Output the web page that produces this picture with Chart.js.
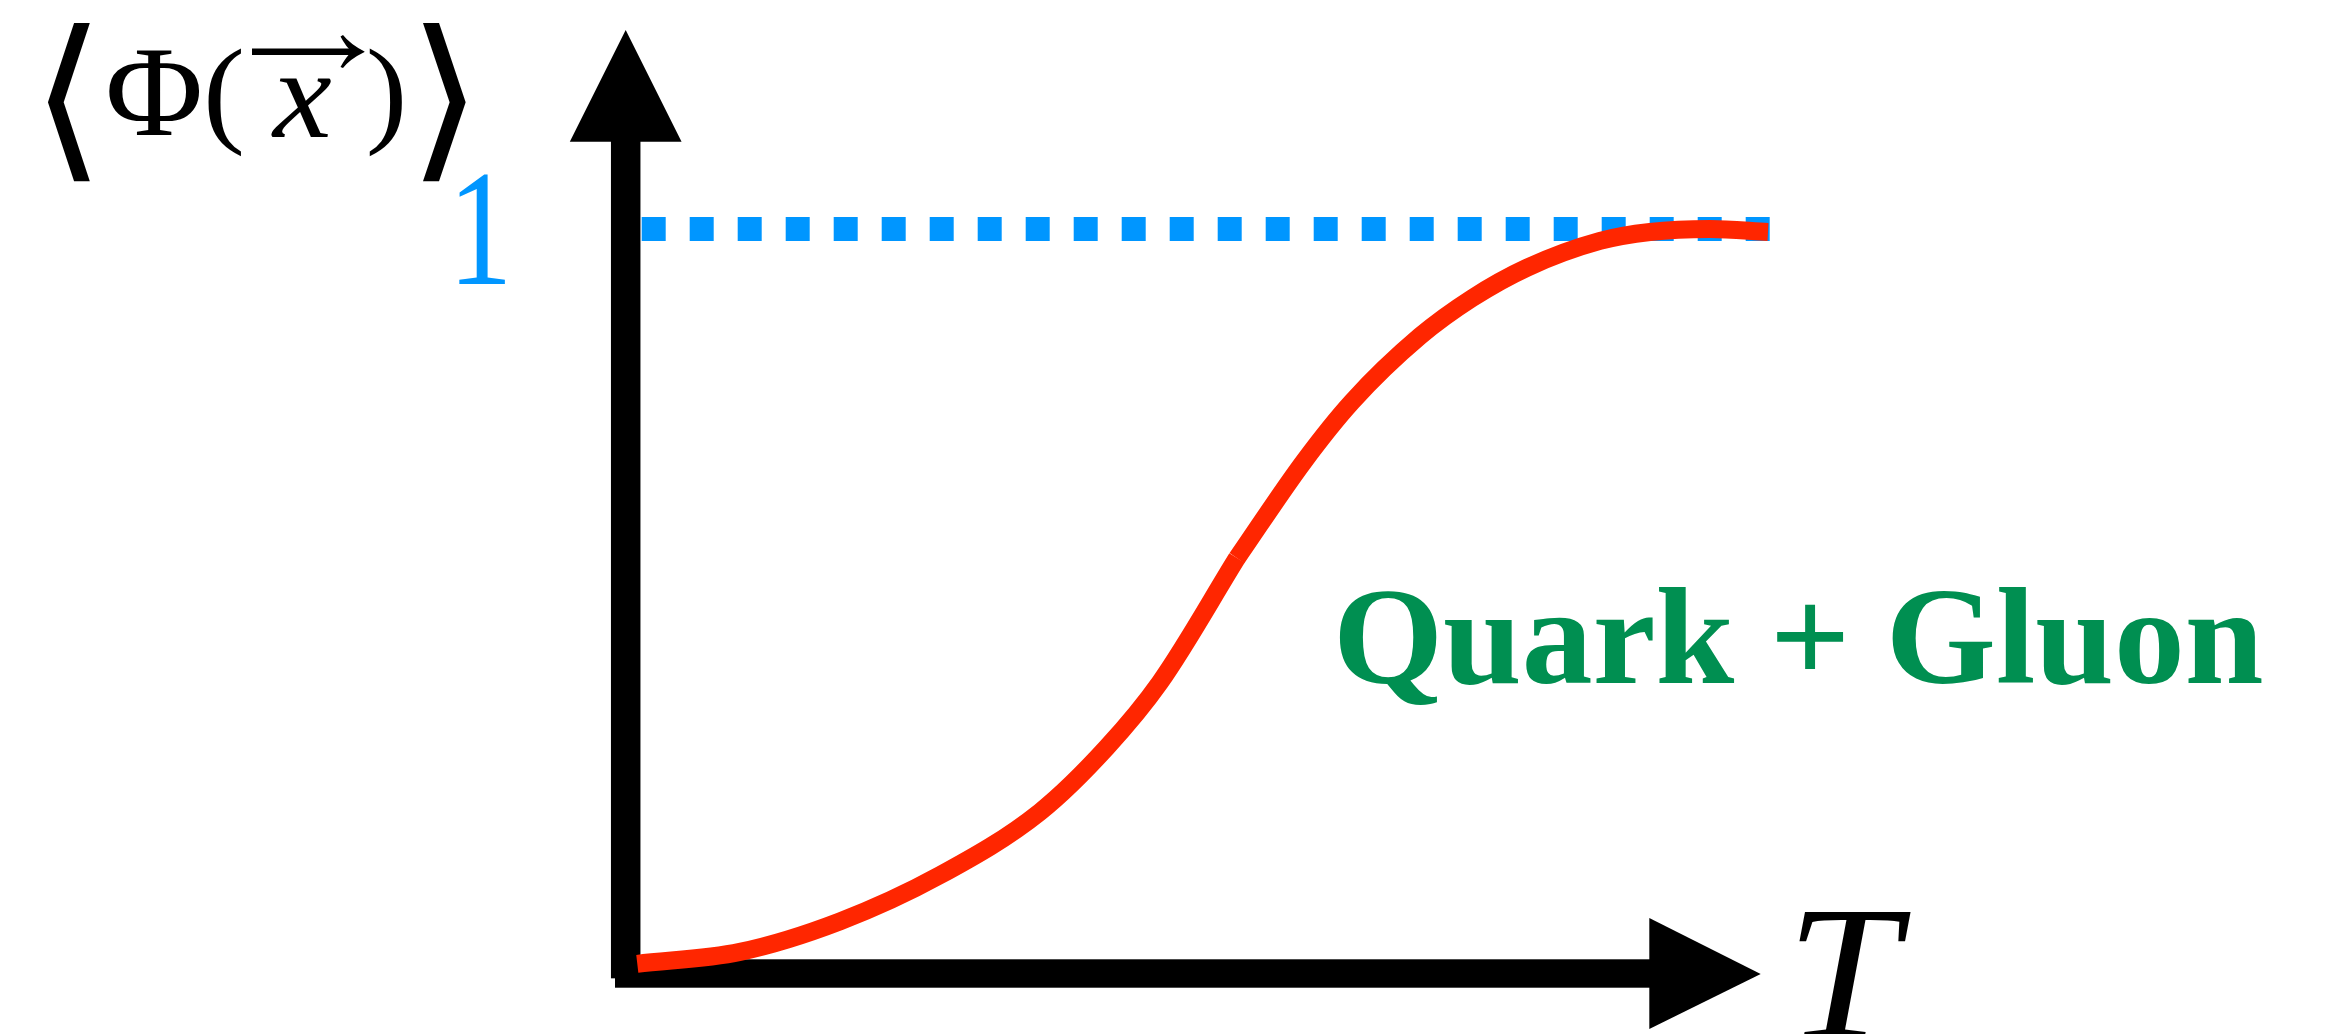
<!DOCTYPE html>
<html>
<head>
<meta charset="utf-8">
<script src="https://cdn.jsdelivr.net/npm/chart.js@4/dist/chart.umd.min.js"></script>
<style>
html,body{margin:0;padding:0;background:#ffffff;overflow:hidden}
canvas{display:block}
</style>
</head>
<body>
<canvas id="c" width="2326" height="1034" style="width:2326px;height:1034px"></canvas>
<script>
// ---------------- data ----------------
// confined (hadronic) branch, up to the crossover kink
const hadronT    = [0.116, 1.143, 2.143, 3.143, 4.143, 4.813, 5.343, 6.113];
const hadronPhi  = [0.013, 0.029, 0.070, 0.132, 0.217, 0.304, 0.391, 0.558];
// deconfined (quark + gluon) branch, from the kink on
const plasmaT    = [6.113, 6.783, 7.263, 7.943, 8.463, 9.013, 9.743, 10.243, 10.843, 11.423];
const plasmaPhi  = [0.558, 0.688, 0.768, 0.856, 0.907, 0.948, 0.984, 0.996, 1.000, 0.996];
// the limiting value 1
const limitT     = [0.16, 11.44];
const limitValue = [1, 1];
const yTickLabel  = '1';
const xAxisLabel  = 'T';
const phaseLabel  = 'Quark + Gluon';
const yLabelParts = ['\u27E8', '\u03A6', '(', 'x', ')', '\u27E9'];

// ---------------- colours ----------------
const RED = '#FF2600', BLUE = '#0096FF', GREEN = '#008F51', BLACK = '#000000';

const toPoints = (xs, ys) => xs.map((v, i) => ({x: v, y: ys[i]}));

// draw text scaled into a pixel box
function fitText(ctx, text, font, color, L, R, T, B) {
  ctx.save();
  ctx.font = font; ctx.fillStyle = color;
  ctx.textBaseline = 'alphabetic'; ctx.textAlign = 'left';
  const m = ctx.measureText(text);
  const aL = m.actualBoundingBoxLeft, aR = m.actualBoundingBoxRight;
  const asc = m.actualBoundingBoxAscent, desc = m.actualBoundingBoxDescent;
  ctx.translate(L, T);
  ctx.scale((R - L) / (aL + aR), (B - T) / (asc + desc));
  ctx.fillText(text, aL, asc);
  ctx.restore();
}
function fitTextBaseline(ctx, text, font, color, L, R, T, base) {
  ctx.save();
  ctx.font = font; ctx.fillStyle = color;
  ctx.textBaseline = 'alphabetic'; ctx.textAlign = 'left';
  const m = ctx.measureText(text);
  const aL = m.actualBoundingBoxLeft, aR = m.actualBoundingBoxRight;
  const asc = m.actualBoundingBoxAscent;
  ctx.translate(L, base);
  ctx.scale((R - L) / (aL + aR), (base - T) / asc);
  ctx.fillText(text, aL, 0);
  ctx.restore();
}

// axes with arrow heads, positioned through the chart scales
const axesPlugin = {
  id: 'arrowAxes',
  beforeDatasetsDraw(chart) {
    const {ctx, scales: {x, y}} = chart;
    ctx.save();
    ctx.fillStyle = BLACK;
    // vertical axis
    const x0 = x.getPixelForValue(0);
    const yBottom = y.getPixelForValue(-0.0065);
    const yBase = y.getPixelForValue(1.1173);
    const yTip = y.getPixelForValue(1.2673);
    ctx.fillRect(x0 - 14.75, yBase - 1, 29.5, yBottom - yBase + 1);
    ctx.beginPath();
    ctx.moveTo(x0, yTip);
    ctx.lineTo(x0 - 55.85, yBase);
    ctx.lineTo(x0 + 55.85, yBase);
    ctx.closePath(); ctx.fill();
    // horizontal axis
    const y0 = y.getPixelForValue(0);
    const xStart = x.getPixelForValue(-0.107);
    const xBase = x.getPixelForValue(10.236);
    const xTip = x.getPixelForValue(11.35);
    ctx.fillRect(xStart, y0 - 14.2, xBase - xStart + 1, 28.4);
    ctx.beginPath();
    ctx.moveTo(xTip, y0 + 0.5);
    ctx.lineTo(xBase, y0 - 55.5);
    ctx.lineTo(xBase, y0 + 55.5);
    ctx.closePath(); ctx.fill();
    ctx.restore();
  }
};

// labels
const labelPlugin = {
  id: 'labels',
  afterDraw(chart) {
    const ctx = chart.ctx;
    const serif = '"Liberation Serif", "Times New Roman", serif';
    const brk = '"DejaVu Sans", "DejaVu Serif", "Noto Sans", sans-serif';
    // y label  <Phi(x->)>
    fitText(ctx, yLabelParts[0], '200px ' + brk, BLACK, 47, 90.6, 23, 182);
    fitText(ctx, yLabelParts[1], '128px ' + serif, BLACK, 108.5, 199.5, 50.7, 135);
    fitText(ctx, yLabelParts[2], '128px ' + serif, BLACK, 208, 241.5, 48, 157);
    fitText(ctx, yLabelParts[3], 'italic 128px ' + serif, BLACK, 271, 331, 77.7, 136.7);
    fitText(ctx, yLabelParts[4], '128px ' + serif, BLACK, 369.6, 401.8, 48, 157);
    fitText(ctx, yLabelParts[5], '200px ' + brk, BLACK, 423, 466.5, 23, 182);
    // vector arrow over x
    ctx.save();
    ctx.strokeStyle = BLACK; ctx.fillStyle = BLACK;
    ctx.lineWidth = 6.6; ctx.lineCap = 'butt';
    ctx.beginPath(); ctx.moveTo(252, 51.7); ctx.lineTo(356, 51.7); ctx.stroke();
    ctx.beginPath();
    ctx.moveTo(364.5, 51.5);
    ctx.quadraticCurveTo(350, 44, 343, 35);
    ctx.lineTo(340.5, 36.5);
    ctx.quadraticCurveTo(346, 47, 352, 51.7);
    ctx.quadraticCurveTo(346, 56.5, 340.5, 67);
    ctx.lineTo(343, 68);
    ctx.quadraticCurveTo(350, 59, 364.5, 52);
    ctx.closePath(); ctx.fill();
    ctx.restore();
    // tick label "1"
    fitText(ctx, yTickLabel, '163px ' + serif, BLUE, 459, 505, 174, 284);
    // axis label T
    fitText(ctx, xAxisLabel, 'italic 190px ' + serif, BLACK, 1799, 1910.7, 910, 1037);
    // phase label
    fitTextBaseline(ctx, phaseLabel, 'bold 140px ' + serif, GREEN, 1339, 2261.7, 586.7, 682.7);
  }
};

const curveStyle = {
  borderColor: RED,
  borderWidth: 18,
  borderCapStyle: 'butt',
  cubicInterpolationMode: 'monotone',
  pointRadius: 0,
  fill: false,
  clip: false
};

new Chart(document.getElementById('c'), {
  type: 'line',
  data: {
    datasets: [
      Object.assign({label: 'confined', data: toPoints(hadronT, hadronPhi)}, curveStyle),
      Object.assign({label: 'deconfined', data: toPoints(plasmaT, plasmaPhi)}, curveStyle),
      {
        label: 'limit',
        data: toPoints(limitT, limitValue),
        borderColor: BLUE,
        borderWidth: 24,
        borderDash: [24, 24],
        borderCapStyle: 'butt',
        pointRadius: 0,
        fill: false,
        clip: false
      }
    ]
  },
  options: {
    responsive: false,
    devicePixelRatio: 1,
    animation: false,
    events: [],
    layout: {padding: 0},
    plugins: {legend: {display: false}, title: {display: false}, tooltip: {enabled: false}},
    scales: {
      x: {type: 'linear', min: -6.257, max: 17.003, display: false},
      y: {type: 'linear', min: -0.08126, max: 1.30759, display: false}
    }
  },
  plugins: [axesPlugin, labelPlugin]
});
</script>
</body>
</html>
